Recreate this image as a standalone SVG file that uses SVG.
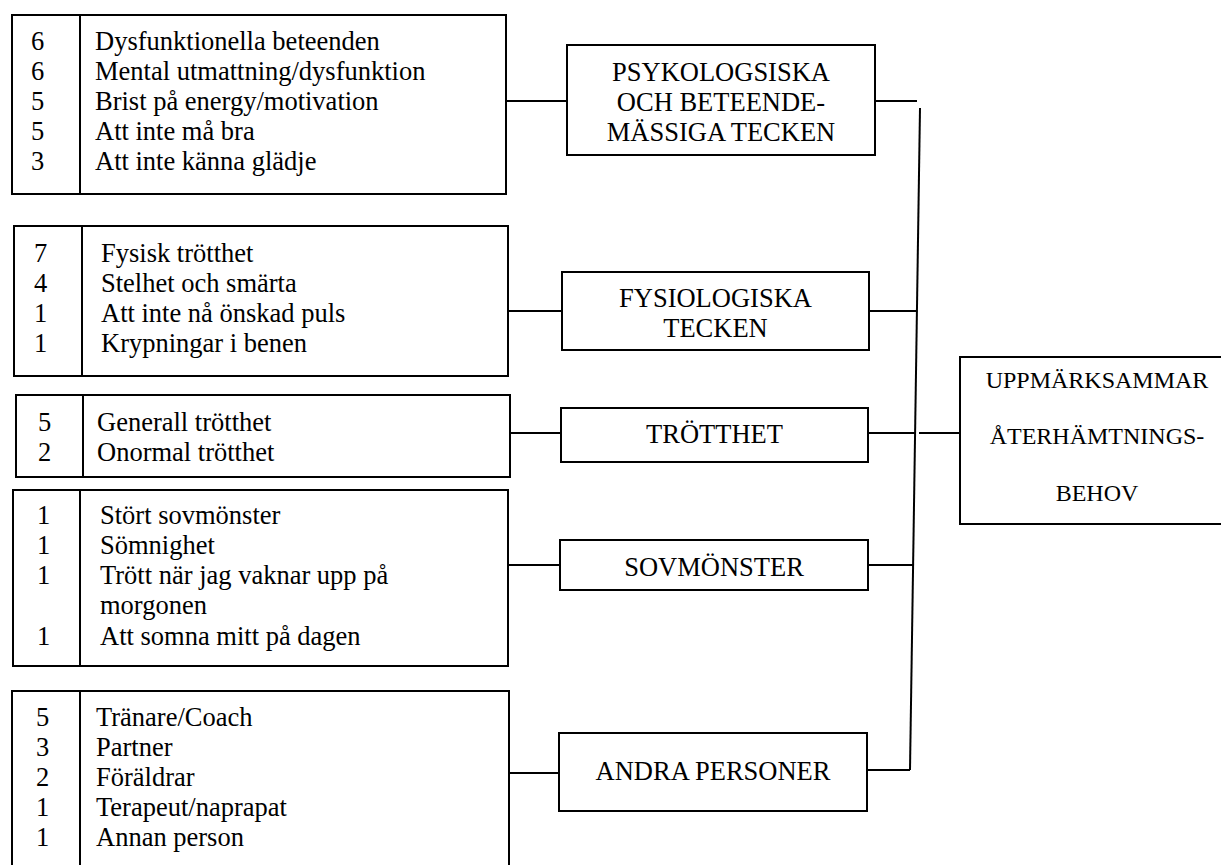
<svg xmlns="http://www.w3.org/2000/svg" width="1221" height="865" viewBox="0 0 1221 865">
<style>
.box{fill:#fff;stroke:#000;stroke-width:2}
.div{stroke:#000;stroke-width:2}
.con{stroke:#000;stroke-width:2;fill:none}
text{font-family:"Liberation Serif","Times New Roman",serif;fill:#000}
.t{font-size:26.5px}
.c{font-size:26.5px;text-anchor:middle}
.u{font-size:24px;text-anchor:middle}
</style>
<rect width="1221" height="865" fill="#fff"/>
<g id="connectors">
<line class="con" x1="506" y1="101" x2="567" y2="101"/>
<line class="con" x1="875" y1="101" x2="917" y2="101"/>
<line class="con" x1="920" y1="108" x2="910" y2="770"/>
<line class="con" x1="508" y1="311" x2="562" y2="311"/>
<line class="con" x1="869" y1="311" x2="917" y2="311"/>
<line class="con" x1="510" y1="433" x2="561" y2="433"/>
<line class="con" x1="868" y1="433" x2="915" y2="433"/>
<line class="con" x1="919" y1="433" x2="960" y2="433"/>
<line class="con" x1="508" y1="565" x2="560" y2="565"/>
<line class="con" x1="868" y1="565" x2="913" y2="565"/>
<line class="con" x1="506" y1="773" x2="559" y2="773"/>
<line class="con" x1="867" y1="770" x2="910" y2="770"/>
</g>
<g id="list1">
<rect class="box" x="12" y="15" width="494" height="179"/>
<line class="div" x1="80" y1="15" x2="80" y2="194"/>
<text class="t" x="31" y="50">6</text><text class="t" x="95" y="50">Dysfunktionella beteenden</text>
<text class="t" x="31" y="80">6</text><text class="t" x="95" y="80">Mental utmattning/dysfunktion</text>
<text class="t" x="31" y="110">5</text><text class="t" x="95" y="110">Brist på energy/motivation</text>
<text class="t" x="31" y="140">5</text><text class="t" x="95" y="140">Att inte må bra</text>
<text class="t" x="31" y="170">3</text><text class="t" x="95" y="170">Att inte känna glädje</text>
</g>
<g id="psyk">
<rect class="box" x="567" y="45" width="308" height="110"/>
<text class="c" x="721" y="81">PSYKOLOGSISKA</text>
<text class="c" x="721" y="111">OCH BETEENDE-</text>
<text class="c" x="721" y="141">MÄSSIGA TECKEN</text>
</g>
<g id="list2">
<rect class="box" x="14" y="226" width="494" height="150"/>
<line class="div" x1="82" y1="226" x2="82" y2="376"/>
<text class="t" x="34" y="262">7</text><text class="t" x="101" y="262">Fysisk trötthet</text>
<text class="t" x="34" y="292">4</text><text class="t" x="101" y="292">Stelhet och smärta</text>
<text class="t" x="34" y="322">1</text><text class="t" x="101" y="322">Att inte nå önskad puls</text>
<text class="t" x="34" y="352">1</text><text class="t" x="101" y="352">Krypningar i benen</text>
</g>
<g id="fysio">
<rect class="box" x="562" y="272" width="307" height="78"/>
<text class="c" x="715.5" y="307">FYSIOLOGISKA</text>
<text class="c" x="715.5" y="337">TECKEN</text>
</g>
<g id="list3">
<rect class="box" x="16" y="395" width="494" height="82"/>
<line class="div" x1="83" y1="395" x2="83" y2="477"/>
<text class="t" x="38" y="431">5</text><text class="t" x="97" y="431">Generall trötthet</text>
<text class="t" x="38" y="461">2</text><text class="t" x="97" y="461">Onormal trötthet</text>
</g>
<g id="trotthet">
<rect class="box" x="561" y="408" width="307" height="54"/>
<text class="c" x="714.5" y="443">TRÖTTHET</text>
</g>
<g id="list4">
<rect class="box" x="13" y="490" width="495" height="176"/>
<line class="div" x1="80" y1="490" x2="80" y2="666"/>
<text class="t" x="37" y="524">1</text><text class="t" x="100" y="524">Stört sovmönster</text>
<text class="t" x="37" y="554">1</text><text class="t" x="100" y="554">Sömnighet</text>
<text class="t" x="37" y="584">1</text><text class="t" x="100" y="584">Trött när jag vaknar upp på</text>
<text class="t" x="100" y="614">morgonen</text>
<text class="t" x="37" y="645">1</text><text class="t" x="100" y="645">Att somna mitt på dagen</text>
</g>
<g id="sovmonster">
<rect class="box" x="560" y="540" width="308" height="50"/>
<text class="c" x="714" y="576">SOVMÖNSTER</text>
</g>
<g id="list5">
<rect class="box" x="12" y="691" width="497" height="200"/>
<line class="div" x1="80" y1="691" x2="80" y2="891"/>
<text class="t" x="36" y="726">5</text><text class="t" x="96" y="726">Tränare/Coach</text>
<text class="t" x="36" y="756">3</text><text class="t" x="96" y="756">Partner</text>
<text class="t" x="36" y="786">2</text><text class="t" x="96" y="786">Föräldrar</text>
<text class="t" x="36" y="816">1</text><text class="t" x="96" y="816">Terapeut/naprapat</text>
<text class="t" x="36" y="846">1</text><text class="t" x="96" y="846">Annan person</text>
</g>
<g id="andra">
<rect class="box" x="559" y="733" width="308" height="78"/>
<text class="c" x="713" y="780">ANDRA PERSONER</text>
</g>
<g id="uppmarksammar">
<rect class="box" x="960" y="357" width="280" height="167"/>
<text class="u" x="1097" y="388">UPPMÄRKSAMMAR</text>
<text class="u" x="1097" y="444">ÅTERHÄMTNINGS-</text>
<text class="u" x="1097" y="501">BEHOV</text>
</g>
</svg>
